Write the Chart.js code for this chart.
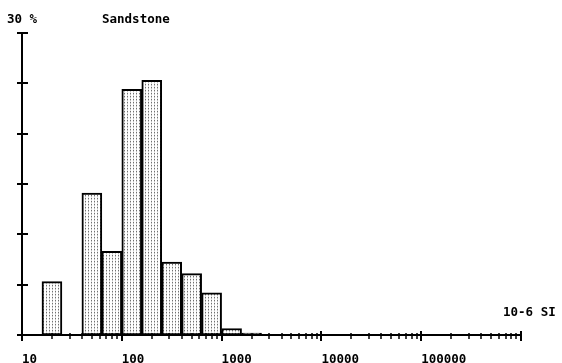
<!DOCTYPE html>
<html>
<head>
<meta charset="utf-8">
<script src="https://cdn.jsdelivr.net/npm/chart.js@4/dist/chart.umd.min.js"></script>
<style>
  html, body { margin: 0; padding: 0; background: #fff; }
  #wrap { width: 562px; height: 363px; }
</style>
</head>
<body>
<div id="wrap"><canvas id="myChart" width="562" height="363"></canvas></div>
<script>
// bin edges (10-6 SI, 0.2 decade wide) and share of samples in each bin (%)
const binLow  = [15.85, 25.12, 39.81, 63.10, 100, 158.5, 251.2, 398.1, 631.0, 1000, 1585];
const binHigh = [25.12, 39.81, 63.10, 100, 158.5, 251.2, 398.1, 631.0, 1000, 1585, 2512];
const percents = [5.3, 0, 14.1, 8.3, 24.4, 25.3, 7.25, 6.1, 4.2, 0.65, 0.2];
const decadeLabels = [10, 100, 1000, 10000, 100000];
const yTicks = [0, 5, 10, 15, 20, 25, 30];

const FONT = 'bold 12.5px "DejaVu Sans Mono", monospace';

// dotted grey fill like the old printer shading
const makePattern = function() {
  const c = document.createElement('canvas');
  c.width = 3; c.height = 3;
  const g = c.getContext('2d');
  g.fillStyle = '#ffffff';
  g.fillRect(0, 0, 3, 3);
  g.fillStyle = '#707070';
  g.fillRect(1, 0, 1, 1);
  g.fillStyle = '#c0c0c0';
  g.fillRect(1, 1, 1, 1);
  g.fillStyle = '#e4e4e4';
  g.fillRect(1, 2, 1, 1);
  return g.createPattern(c, 'repeat');
}

const barData = binLow.map((lo, i) => ({ x: Math.sqrt(lo * binHigh[i]), y: percents[i] }));

// axes, tick marks and the loose labels
const axisPlugin = {
  id: 'axisPlugin',
  afterDraw(chart) {
    const ctx = chart.ctx;
    const x = chart.scales.x;
    const y = chart.scales.y;
    const area = chart.chartArea;
    const y0 = y.getPixelForValue(0);
    const x0 = area.left;
    ctx.save();
    ctx.strokeStyle = '#000';
    ctx.lineWidth = 2;
    ctx.beginPath();
    ctx.moveTo(area.left - 1, y0);
    ctx.lineTo(area.right, y0);
    ctx.moveTo(x0, y.getPixelForValue(30));
    ctx.lineTo(x0, y0);
    ctx.stroke();

    x.ticks.forEach(t => {
      const px = Math.round(x.getPixelForValue(t.value));
      const lg = Math.log10(t.value);
      const major = Math.abs(lg - Math.round(lg)) < 1e-6;
      ctx.lineWidth = major ? 2 : 1.5;
      ctx.beginPath();
      ctx.moveTo(px, y0 - (major ? 4 : 2));
      ctx.lineTo(px, y0 + (major ? 6 : 4));
      ctx.stroke();
    });

    ctx.lineWidth = 2;
    yTicks.forEach(v => {
      const py = Math.round(y.getPixelForValue(v));
      ctx.beginPath();
      ctx.moveTo(x0 - 5, py);
      ctx.lineTo(x0 + 6, py);
      ctx.stroke();
    });

    ctx.fillStyle = '#000';
    ctx.font = FONT;
    ctx.textBaseline = 'alphabetic';
    ctx.textAlign = 'left';
    ctx.fillText('30 %', 7, 23);
    ctx.fillText('Sandstone', 102, 23);
    ctx.fillText('10-6 SI', 503, 316);
    ctx.restore();
  }
};

const ctx = document.getElementById('myChart').getContext('2d');
const myChart = new Chart(ctx, {
  type: 'bar',
  data: {
    datasets: [{
      data: barData,
      backgroundColor: makePattern(),
      borderColor: '#000',
      borderWidth: 2,
      borderSkipped: false,
      barThickness: 'flex',
      barPercentage: 1,
      categoryPercentage: 1
    }]
  },
  options: {
    responsive: false,
    animation: false,
    layout: { padding: { left: 22, right: 41, top: 33, bottom: 0 } },
    plugins: { legend: { display: false }, tooltip: { enabled: false }, title: { display: false } },
    scales: {
      x: {
        type: 'logarithmic',
        min: 10,
        max: 1000000,
        grid: { display: false },
        border: { display: false },
        afterBuildTicks: (scale) => {
          const ticks = [];
          for (let d = 10; d < 1000000; d *= 10) {
            for (let k = 1; k <= 9; k++) ticks.push({ value: k * d });
          }
          ticks.push({ value: 1000000 });
          scale.ticks = ticks;
        },
        afterFit: (scale) => { scale.height = 28; },
        ticks: {
          autoSkip: false,
          maxRotation: 0,
          align: 'start',
          padding: 9,
          color: '#000',
          font: { family: '"DejaVu Sans Mono", monospace', size: 12.5, weight: 'bold' },
          callback: (v) => decadeLabels.includes(v) ? String(v) : ''
        }
      },
      y: {
        min: 0,
        max: 30,
        grid: { display: false },
        border: { display: false },
        ticks: { display: false, stepSize: 5 },
        afterFit: (scale) => { scale.width = 0; }
      }
    }
  },
  plugins: [axisPlugin]
});
</script>
</body>
</html>
